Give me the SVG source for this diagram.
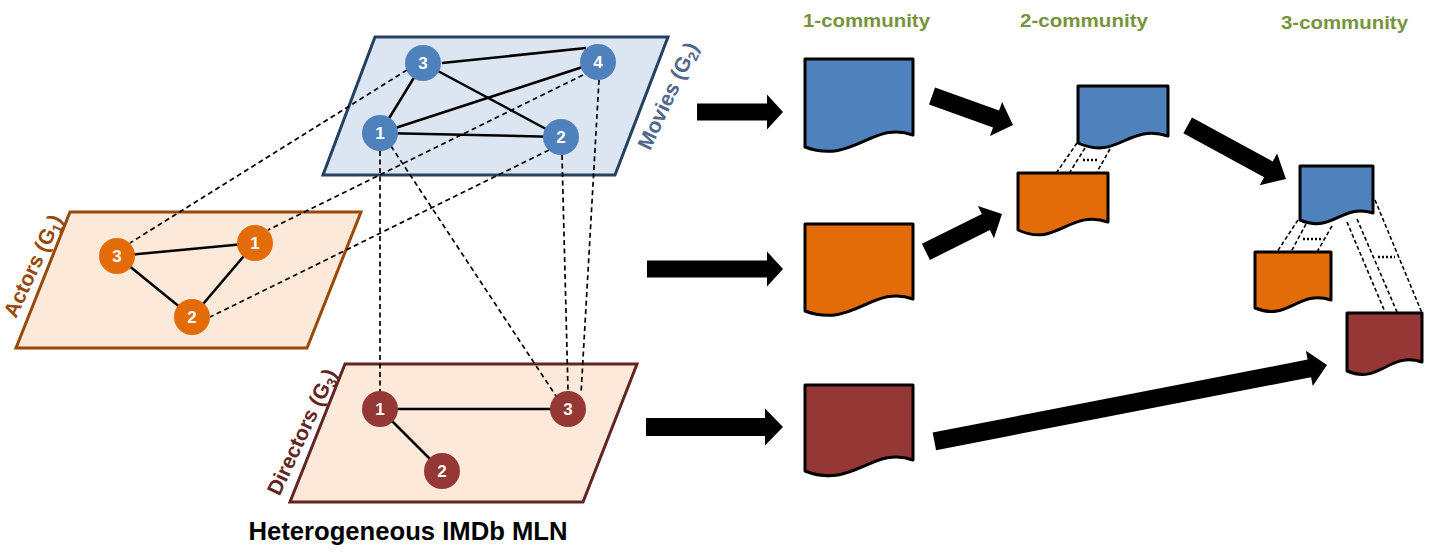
<svg xmlns="http://www.w3.org/2000/svg" width="1445" height="552" viewBox="0 0 1445 552">
<style>
.plane{stroke-width:3;stroke-linejoin:miter}
.edge{stroke:#000;stroke-width:2.5;fill:none}
.dash{stroke:#000;stroke-width:1.7;stroke-dasharray:5,3.5;fill:none}
.dl{stroke:#000;stroke-width:1.6;stroke-dasharray:4,2.5;fill:none}
.dot{stroke:#000;stroke-width:2.5;stroke-dasharray:2,2;fill:none}
.nl{font-family:"Liberation Sans",Arial,sans-serif;font-weight:bold;font-size:17px;fill:#fff;text-anchor:middle}
.lbl{font-family:"Liberation Sans",Arial,sans-serif;font-weight:bold;font-size:21px;text-anchor:middle}
.com{font-family:"Liberation Sans",Arial,sans-serif;font-weight:bold;font-size:19px;fill:#77933c}
.doc{stroke:#000;stroke-width:3;stroke-linejoin:round}
.barrow{fill:#000}
.mv{fill:#4f81bd}.ac{fill:#e36c09}.dr{fill:#953735}
</style>

<g id="plane-movies">
<polygon class="plane" points="375,37 668,37 615,175 323,175" fill="#dce6f2" stroke="#254061"/>
<text class="lbl" fill="#50698a" transform="translate(668,96) rotate(-65)" y="7">Movies (G<tspan font-size="14" dy="4">2</tspan><tspan dy="-4">)</tspan></text>
</g>
<g id="plane-actors">
<polygon class="plane" points="70,212 361,212 307,348 16,348" fill="#fde9d9" stroke="#984807"/>
<text class="lbl" fill="#984807" transform="translate(33,266) rotate(-65)" y="7">Actors (G<tspan font-size="14" dy="4">1</tspan><tspan dy="-4">)</tspan></text>
</g>
<g id="plane-directors">
<polygon class="plane" points="345,364 637,364 583,502 290,502" fill="#fde9d9" stroke="#632523"/>
<text class="lbl" fill="#632523" transform="translate(302,432) rotate(-65)" y="7">Directors (G<tspan font-size="14" dy="4">3</tspan><tspan dy="-4">)</tspan></text>
</g>

<g id="connectors">
<line class="edge" x1="442" y1="63" x2="586" y2="48"/>
<line class="edge" x1="423" y1="63" x2="380" y2="133"/>
<line class="edge" x1="423" y1="63" x2="561" y2="137"/>
<line class="edge" x1="380" y1="133" x2="598" y2="62"/>
<line class="edge" x1="380" y1="133" x2="561" y2="137"/>
<line class="edge" x1="117" y1="256" x2="255" y2="243"/>
<line class="edge" x1="117" y1="256" x2="192" y2="317"/>
<line class="edge" x1="255" y1="243" x2="192" y2="317"/>
<line class="edge" x1="380" y1="409" x2="568" y2="409"/>
<line class="edge" x1="380" y1="409" x2="442" y2="471"/>
<line class="dash" x1="407" y1="70" x2="130" y2="243"/>
<line class="dash" x1="583" y1="75" x2="268" y2="230"/>
<line class="dash" x1="549" y1="150" x2="210" y2="317"/>
<line class="dash" x1="380" y1="151" x2="380" y2="391"/>
<line class="dash" x1="391" y1="146" x2="556" y2="396"/>
<line class="dash" x1="562" y1="155" x2="568" y2="391"/>
<line class="dash" x1="599" y1="80" x2="581" y2="394"/>
<polygon class="barrow" transform="translate(783,112)" points="-86,-8.5 -16,-8.5 -16,-17.5 0,0 -16,17.5 -16,8.5 -86,8.5"/>
<polygon class="barrow" transform="translate(783,269)" points="-136,-8.5 -16,-8.5 -16,-17.5 0,0 -16,17.5 -16,8.5 -136,8.5"/>
<polygon class="barrow" transform="translate(783,427)" points="-137,-9 -18,-9 -18,-18.5 0,0 -18,18.5 -18,9 -137,9"/>
<polygon class="barrow" transform="translate(1013,125) rotate(19.7)" points="-86,-9 -18,-9 -18,-18 0,0 -18,18 -18,9 -86,9"/>
<polygon class="barrow" transform="translate(1002,214) rotate(-26.5)" points="-85,-9 -18,-9 -18,-18 0,0 -18,18 -18,9 -85,9"/>
<polygon class="barrow" transform="translate(1286,179) rotate(28.6)" points="-112,-9 -20,-9 -20,-18 0,0 -20,18 -20,9 -112,9"/>
<polygon class="barrow" transform="translate(1327,365) rotate(-11)" points="-400,-9 -18,-9 -18,-18 0,0 -18,18 -18,9 -400,9"/>
<line class="dl" x1="1077" y1="143" x2="1057" y2="172"/>
<line class="dl" x1="1085" y1="148" x2="1070" y2="172"/>
<line class="dl" x1="1110" y1="149" x2="1097" y2="172"/>
<line class="dot" x1="1083" y1="160" x2="1097" y2="160"/>
<line class="dl" x1="1298" y1="220" x2="1277" y2="252"/>
<line class="dl" x1="1306" y1="224" x2="1291" y2="252"/>
<line class="dl" x1="1332" y1="226" x2="1317" y2="252"/>
<line class="dot" x1="1303" y1="239" x2="1322" y2="239"/>
<line class="dl" x1="1347" y1="222" x2="1385" y2="312"/>
<line class="dl" x1="1357" y1="219" x2="1397" y2="312"/>
<line class="dl" x1="1375" y1="200" x2="1422" y2="313"/>
<line class="dot" x1="1378" y1="257" x2="1395" y2="257"/>
</g>

<g id="movie-3"><circle class="mv" cx="423" cy="63" r="18"/><text class="nl" x="423" y="69">3</text></g>
<g id="movie-4"><circle class="mv" cx="598" cy="62" r="18"/><text class="nl" x="598" y="68">4</text></g>
<g id="movie-1"><circle class="mv" cx="380" cy="133" r="18"/><text class="nl" x="380" y="139">1</text></g>
<g id="movie-2"><circle class="mv" cx="561" cy="137" r="18"/><text class="nl" x="561" y="143">2</text></g>

<g id="actor-3"><circle class="ac" cx="117" cy="256" r="18"/><text class="nl" x="117" y="262">3</text></g>
<g id="actor-1"><circle class="ac" cx="255" cy="243" r="18"/><text class="nl" x="255" y="249">1</text></g>
<g id="actor-2"><circle class="ac" cx="192" cy="317" r="18"/><text class="nl" x="192" y="323">2</text></g>

<g id="director-1"><circle class="dr" cx="380" cy="409" r="18"/><text class="nl" x="380" y="415">1</text></g>
<g id="director-3"><circle class="dr" cx="568" cy="409" r="18"/><text class="nl" x="568" y="415">3</text></g>
<g id="director-2"><circle class="dr" cx="442" cy="471" r="18"/><text class="nl" x="442" y="477">2</text></g>

<g id="title"><text x="408" y="540" font-family="'Liberation Sans',Arial,sans-serif" font-weight="bold" font-size="25" text-anchor="middle" textLength="319" lengthAdjust="spacingAndGlyphs">Heterogeneous IMDb MLN</text></g>

<g id="label-1c"><text class="com" x="803" y="27" textLength="127" lengthAdjust="spacingAndGlyphs">1-community</text></g>
<g id="label-2c"><text class="com" x="1020" y="27" textLength="128" lengthAdjust="spacingAndGlyphs">2-community</text></g>
<g id="label-3c"><text class="com" x="1281" y="29" textLength="127" lengthAdjust="spacingAndGlyphs">3-community</text></g>

<g id="c1-movies"><path class="doc" fill="#4f81bd" d="M805,59 H913 V135 C873,120 853,165 805,147 Z"/></g>
<g id="c1-actors"><path class="doc" fill="#e36c09" d="M805,224 H913 V299 C873,284 853,329 805,311 Z"/></g>
<g id="c1-directors"><path class="doc" fill="#953735" d="M805,385 H913 V460 C873,445 853,490 805,471 Z"/></g>
<g id="c2-movies"><path class="doc" fill="#4f81bd" d="M1078,86 H1168 V136 C1128,123 1118,161 1078,143 Z"/></g>
<g id="c2-actors"><path class="doc" fill="#e36c09" d="M1018,173 H1108 V222 C1068,209 1058,248 1018,230 Z"/></g>
<g id="c3-movies"><path class="doc" fill="#4f81bd" d="M1300,166 H1373 V213 C1341,203 1333,234 1300,220 Z"/></g>
<g id="c3-actors"><path class="doc" fill="#e36c09" d="M1255,252 H1331 V300 C1298,289 1289,322 1255,308 Z"/></g>
<g id="c3-directors"><path class="doc" fill="#953735" d="M1347,313 H1422 V362 C1389,351 1380,385 1347,371 Z"/></g>
</svg>
